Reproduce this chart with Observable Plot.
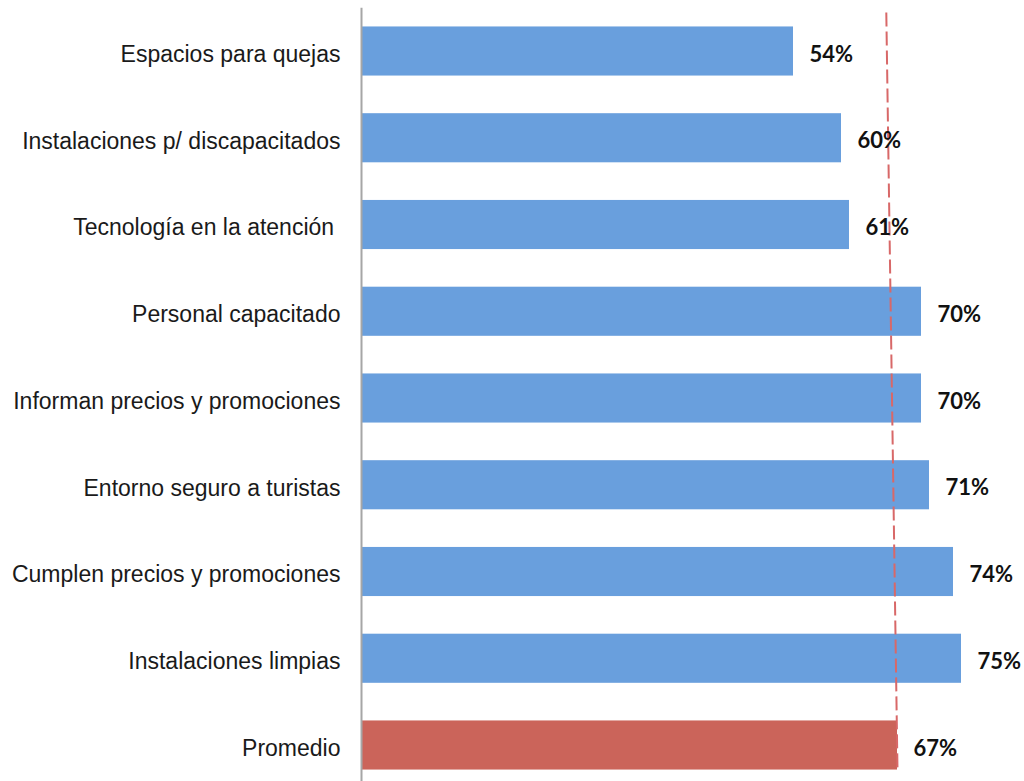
<!DOCTYPE html>
<html>
<head>
<meta charset="utf-8">
<script src="https://cdn.jsdelivr.net/npm/d3@7"></script>
<script src="https://cdn.jsdelivr.net/npm/@observablehq/plot@0.6"></script>
<style>
  html, body { margin: 0; padding: 0; background: #ffffff; }
  #chart svg { display: block; }
</style>
</head>
<body>
<div id="chart"></div>
<script>
// Categories (top to bottom)
const categories = [
  "Espacios para quejas",
  "Instalaciones p/ discapacitados",
  "Tecnología en la atención\u00a0",
  "Personal capacitado",
  "Informan precios y promociones",
  "Entorno seguro a turistas",
  "Cumplen precios y promociones",
  "Instalaciones limpias",
  "Promedio"
];
// Percent values
const values = [54, 60, 61, 70, 70, 71, 74, 75, 67];
// Which bar is the average
const isAverage = [false, false, false, false, false, false, false, false, true];
// Average reference line (slightly slanted in the original): x at top, x at bottom
const avgLineTop = 65.6;
const avgLineBottom = 67.0;

const rows = categories.map((c, i) => ({i, c, v: values[i], avg: isAverage[i]}));
const half = 0.283;

const chart = Plot.plot({
  width: 1024,
  height: 781,
  marginLeft: 361,
  marginRight: 23,
  marginTop: 0,
  marginBottom: 0,
  style: {fontFamily: "'Liberation Sans', Arial, sans-serif", fontSize: "23px", color: "#1a1a1a", background: "#ffffff"},
  x: {domain: [0, 80], axis: null},
  y: {domain: [0, 8], range: [51, 745], axis: null},
  marks: [
    Plot.rectX(rows, {
      x1: 0, x2: "v",
      y1: d => d.i - half, y2: d => d.i + half,
      fill: d => d.avg ? "#CB645A" : "#699FDD"
    }),
    Plot.link([{x1: avgLineTop, x2: avgLineBottom}], {
      x1: "x1", x2: "x2", y1: -0.45, y2: 8.29,
      stroke: "#D86868", strokeWidth: 2, strokeDasharray: "14,5"
    }),
    Plot.ruleX([0], {y1: -0.5, y2: 8.6, stroke: "#A6A6A6", strokeWidth: 2}),
    Plot.text(rows, {
      x: 0, y: "i", text: "c", dx: -21, dy: 3, textAnchor: "end",
      fontSize: 23, fill: "#1a1a1a"
    }),
    Plot.text(rows, {
      x: "v", y: "i", text: d => d.v + "%", dx: 16, dy: 3, textAnchor: "start",
      fontFamily: "Lato, 'Open Sans', sans-serif", fontWeight: "bold", fontSize: 22, fill: "#111111"
    })
  ]
});
document.getElementById("chart").appendChild(chart);
</script>
</body>
</html>
